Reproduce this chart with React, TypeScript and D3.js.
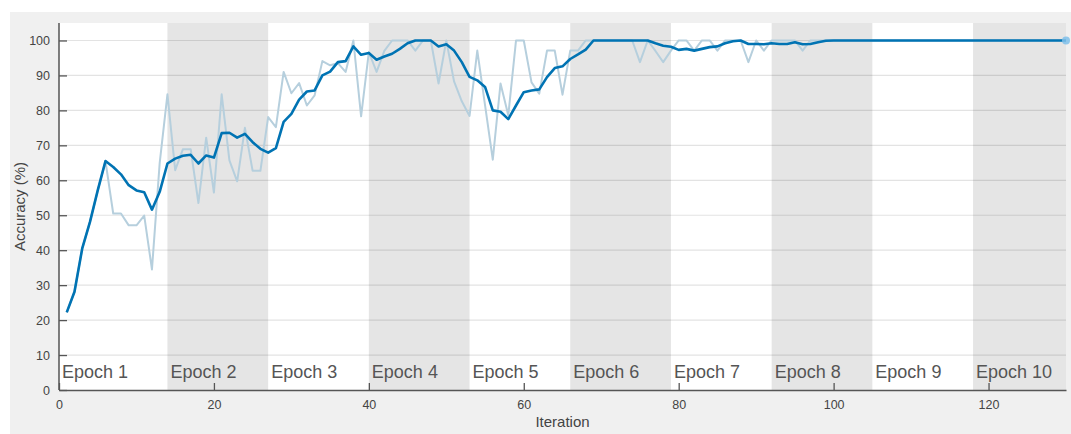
import React, { useEffect, useRef } from 'react';
import * as d3 from 'd3';

// smoothed training accuracy, iterations 1..130
const smoothedAccuracy = [
  22.2, 28.1, 40.5, 48.1, 57.1, 65.5, 63.8, 61.7, 58.6, 57.1,
  56.6, 51.6, 56.7, 64.8, 66.2, 67.0, 67.3, 64.8, 67.1, 66.5,
  73.5, 73.6, 72.2, 73.3, 70.9, 69.0, 67.9, 69.2, 76.7, 79.0,
  83.1, 85.4, 85.7, 90.0, 91.1, 93.8, 94.1, 98.3, 95.9, 96.4,
  94.5, 95.4, 96.2, 97.6, 99.2, 100, 100, 100, 98.3, 98.9,
  97.1, 93.8, 89.6, 88.6, 86.7, 80.0, 79.6, 77.5, 81.4, 85.2,
  85.7, 86.0, 89.5, 92.1, 92.6, 94.7, 96.0, 97.4, 100, 100,
  100, 100, 100, 100, 100, 100, 99.2, 98.5, 98.2, 97.3,
  97.6, 97.1, 97.6, 98.1, 98.3, 99.2, 99.8, 100, 99.0, 99.0,
  98.9, 99.2, 99.0, 99.0, 99.5, 98.9, 99.0, 99.5, 99.9, 100,
  100, 100, 100, 100, 100, 100, 100, 100, 100, 100,
  100, 100, 100, 100, 100, 100, 100, 100, 100, 100,
  100, 100, 100, 100, 100, 100, 100, 100, 100, 100,
];

// raw (per mini-batch) accuracy
const rawAccuracy = [
  22.2, 28.1, 40.5, 48.1, 57.1, 65.5, 50.5, 50.5, 47.1, 47.1,
  49.9, 34.5, 65.0, 84.6, 62.9, 68.9, 68.9, 53.5, 72.2, 56.5,
  84.6, 65.7, 59.7, 75.0, 62.7, 62.7, 78.1, 75.2, 91.0, 84.9,
  87.8, 81.4, 84.3, 94.1, 92.9, 93.5, 91.0, 100, 78.3, 96.7,
  91.0, 97.0, 100, 100, 100, 97.1, 100, 100, 87.7, 100,
  88.3, 82.6, 78.4, 97.1, 81.5, 65.9, 87.7, 78.6, 100, 100,
  88.0, 84.8, 97.1, 97.1, 84.5, 97.1, 97.1, 100, 100, 100,
  100, 100, 100, 100, 93.8, 100, 97.0, 93.8, 97.1, 100,
  100, 97.1, 100, 100, 97.1, 100, 100, 100, 93.8, 100,
  97.1, 100, 100, 100, 100, 97.1, 100, 100, 100, 100,
  100, 100, 100, 100, 100, 100, 100, 100, 100, 100,
  100, 100, 100, 100, 100, 100, 100, 100, 100, 100,
  100, 100, 100, 100, 100, 100, 100, 100, 100, 100,
];

const epochLabels = ['Epoch 1', 'Epoch 2', 'Epoch 3', 'Epoch 4', 'Epoch 5', 'Epoch 6', 'Epoch 7', 'Epoch 8', 'Epoch 9', 'Epoch 10'];
const itersPerEpoch = 13;
const xTicks = [0, 20, 40, 60, 80, 100, 120];
const yTicks = [0, 10, 20, 30, 40, 50, 60, 70, 80, 90, 100];

const W = 1071;
const H = 434;
const FONT = '"Liberation Sans", Arial, Helvetica, sans-serif';

function TrainingChart() {
  const ref = useRef<SVGSVGElement>(null);

  useEffect(() => {
    const svg = d3.select(ref.current);
    svg.selectAll('*').remove();

    const left = 59, right = 1066, top = 23, bottom = 390;
    const totalIters = smoothedAccuracy.length;

    const x = d3.scaleLinear().domain([0, totalIters]).range([left, right]);
    const y = d3.scaleLinear().domain([0, 105]).range([bottom, top]);

    // figure background
    svg.append('rect').attr('x', 10).attr('y', 12).attr('width', W - 10).attr('height', H - 12).attr('fill', '#f0f0f0');
    svg.append('rect').attr('x', left).attr('y', top).attr('width', right - left).attr('height', bottom - top).attr('fill', '#ffffff');

    const epochs = epochLabels.map((label, i) => ({
      label,
      start: i === 0 ? 0 : i * itersPerEpoch + 1,
      end: Math.min((i + 1) * itersPerEpoch + 1, totalIters),
      shaded: i % 2 === 1,
    }));

    svg.append('g').selectAll('rect')
      .data(epochs.filter(e => e.shaded))
      .enter().append('rect')
      .attr('x', d => x(d.start))
      .attr('y', top)
      .attr('width', d => x(d.end) - x(d.start))
      .attr('height', bottom - top)
      .attr('fill', '#e5e5e5');

    // horizontal grid
    svg.append('g').selectAll('line')
      .data(yTicks.filter(t => t > 0))
      .enter().append('line')
      .attr('x1', left).attr('x2', right)
      .attr('y1', d => y(d)).attr('y2', d => y(d))
      .attr('stroke', 'rgba(0,0,0,0.11)')
      .attr('stroke-width', 1.2);

    svg.append('g').selectAll('text')
      .data(epochs)
      .enter().append('text')
      .attr('x', d => x(d.start) + 3)
      .attr('y', 378)
      .attr('font-family', FONT)
      .attr('font-size', 18)
      .attr('fill', '#555')
      .text(d => d.label);

    const line = d3.line<number>()
      .x((_, i) => x(i + 1))
      .y(d => y(d));

    svg.append('path')
      .datum(rawAccuracy)
      .attr('d', line)
      .attr('fill', 'none')
      .attr('stroke', '#b6cfdd')
      .attr('stroke-width', 2)
      .attr('stroke-linejoin', 'round');

    svg.append('path')
      .datum(smoothedAccuracy)
      .attr('d', line)
      .attr('fill', 'none')
      .attr('stroke', '#0073b3')
      .attr('stroke-width', 2.6)
      .attr('stroke-linejoin', 'round');

    svg.append('circle')
      .attr('cx', x(totalIters))
      .attr('cy', y(smoothedAccuracy[totalIters - 1]))
      .attr('r', 4)
      .attr('fill', '#7fc0ea')
      .attr('opacity', 0.85);

    const yAxis = svg.append('g')
      .attr('transform', `translate(${left},0)`)
      .call(d3.axisLeft(y).tickValues(yTicks).tickSizeInner(-8).tickSizeOuter(0).tickPadding(9));
    yAxis.select('.domain').attr('stroke', '#555').attr('stroke-width', 1.5).attr('d', `M0,${top}V${bottom}`);
    yAxis.selectAll('.tick line').attr('stroke', '#555').attr('stroke-width', 1.3);
    yAxis.selectAll('.tick text').attr('font-family', FONT).attr('font-size', 12.5).attr('fill', '#444');

    const xAxis = svg.append('g')
      .attr('transform', `translate(0,${bottom})`)
      .call(d3.axisBottom(x).tickValues(xTicks).tickSizeInner(-7).tickSizeOuter(0).tickPadding(10));
    xAxis.select('.domain').attr('stroke', '#555').attr('stroke-width', 1.5);
    xAxis.selectAll('.tick line').attr('stroke', '#555').attr('stroke-width', 1.3);
    xAxis.selectAll('.tick text').attr('font-family', FONT).attr('font-size', 12.5).attr('fill', '#444');

    svg.append('text')
      .attr('x', (left + right) / 2)
      .attr('y', 427)
      .attr('text-anchor', 'middle')
      .attr('font-family', FONT)
      .attr('font-size', 15)
      .attr('fill', '#444')
      .text('Iteration');

    svg.append('text')
      .attr('transform', `translate(25,${(top + bottom) / 2}) rotate(-90)`)
      .attr('text-anchor', 'middle')
      .attr('font-family', FONT)
      .attr('font-size', 15)
      .attr('fill', '#444')
      .text('Accuracy (%)');
  }, []);

  return <svg ref={ref} width={W} height={H} style={{ display: 'block' }} />;
}

export default function App() {
  return (
    <div style={{ position: 'absolute', left: 0, top: 0, background: '#fff' }}>
      <TrainingChart />
    </div>
  );
}
